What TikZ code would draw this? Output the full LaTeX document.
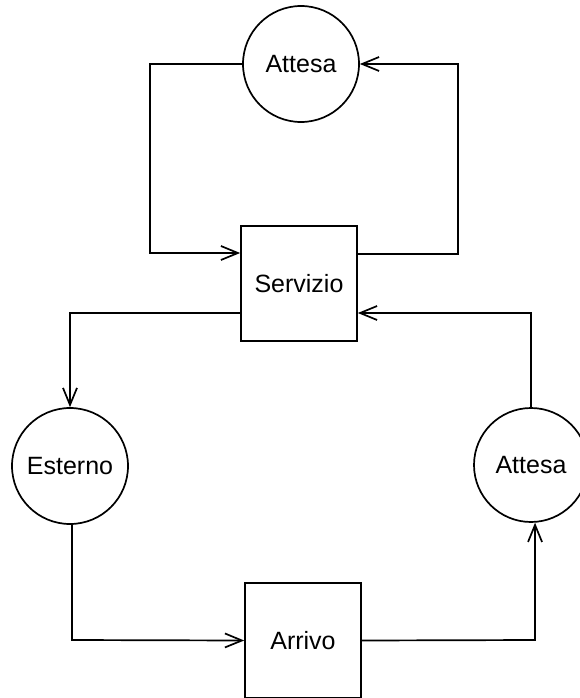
\documentclass[tikz,border=0pt]{standalone}
\usepackage{fontspec}
\setmainfont{Liberation Sans}
\usetikzlibrary{arrows.meta,calc}
\begin{document}
\begin{tikzpicture}[x=1pt,y=-1pt,
  every node/.style={font=\fontsize{25}{30}\selectfont, text=black},
  state/.style={draw, circle, line width=1.7pt, minimum size=116pt, inner sep=0pt},
  block/.style={draw, rectangle, line width=1.7pt, minimum width=116pt, minimum height=115pt, inner sep=0pt},
  flow/.style={line width=1.7pt, -{Straight Barb[length=17pt,width=14pt,line width=1.7pt]}}]
\useasboundingbox (0,0) rectangle (579,698);

% states and service blocks
\node[state] (att1) at (301,64) {Attesa};
\node[block] (srv)  at (299,283.5) {Servizio};
\node[state] (est)  at (70,466) {Esterno};
\node[state, minimum size=114pt] (att2) at (531,465) {Attesa};
\node[block] (arr)  at (303,640.5) {Arrivo};

% bend points
\coordinate (b1) at (150,64);
\coordinate (b2) at (458,254);
\coordinate (b3) at (70,313);
\coordinate (b4) at (72,640);
\coordinate (b5) at (535,640);
\coordinate (b6) at (531,313);

% connectors
\draw[flow] (att1.west) -- (b1) |- ($(srv.west)+(0,-30.5)$);
\draw[flow] ($(srv.east)+(0,-29.5)$) -- (b2) |- (att1.east);
\draw[flow] ($(srv.west)+(0,29.5)$) -- (b3) -- (est.north);
\draw[flow] (est.-88) -- (b4) -- (arr.west);
\draw[flow] (arr.east) -- (b5) -- (att2.-86);
\draw[flow] (att2.north) -- (b6) -- ($(srv.east)+(0,29.5)$);
\end{tikzpicture}
\end{document}
